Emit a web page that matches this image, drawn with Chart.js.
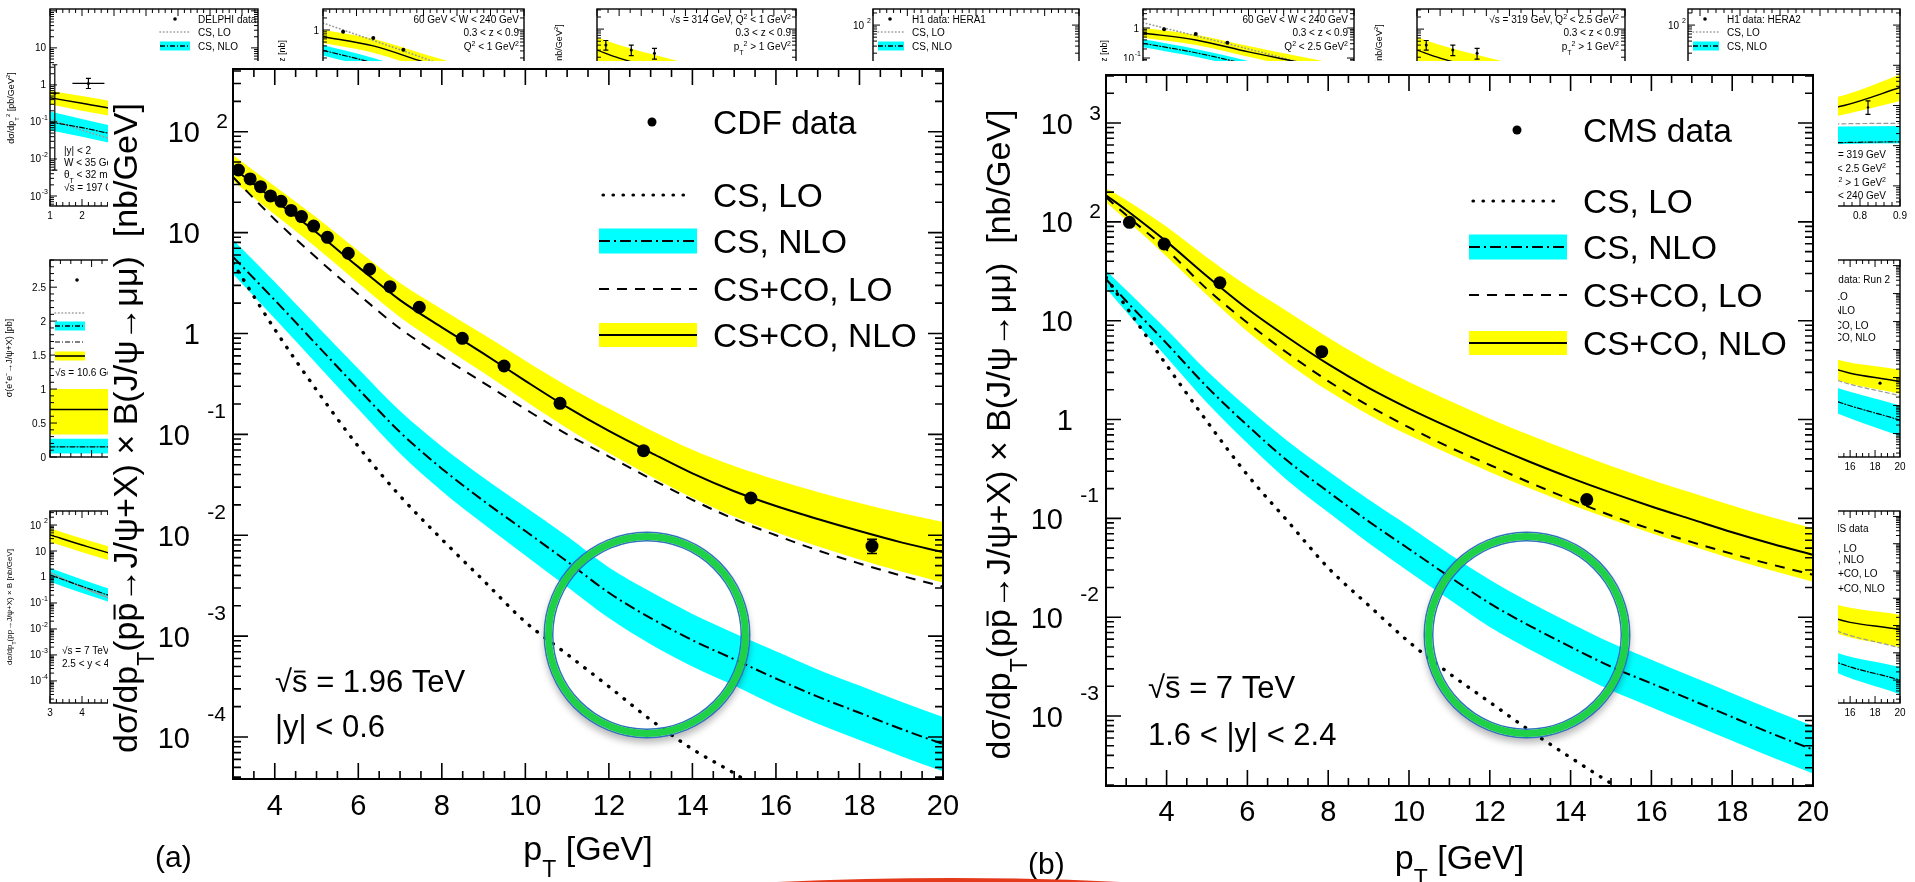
<!DOCTYPE html>
<html>
<head>
<meta charset="utf-8">
<title>Prompt J/psi production, CDF and CMS</title>
<script src="https://cdn.jsdelivr.net/npm/chart.js@4.4.1/dist/chart.umd.min.js"></script>
<style>
  html, body { margin: 0; padding: 0; background: #fff; }
  body { position: relative; width: 1915px; height: 882px; overflow: hidden; }
  canvas { position: absolute; }
  #cvA { left: 108px; top: 61px; }
  #cvB { left: 959px; top: 61px; }
  .ring {
    position: absolute; width: 204px; height: 204px; border-radius: 50%;
    box-sizing: border-box; border: 7px solid #1ed146;
    box-shadow: 0 0 0 1.5px #2f6fc0, inset 0 0 0 1.5px #2f6fc0, 0 5px 7px 1px rgba(0,0,0,0.28);
  }
  #stroke { position: absolute; left: 0; top: 0; }
</style>
</head>
<body>
<div id="bg"></div>
<canvas id="cvA" width="852" height="821"></canvas>
<canvas id="cvB" width="879" height="821"></canvas>
<div class="ring" style="left:545px; top:533px"></div>
<div class="ring" style="left:1425px; top:533px"></div>
<svg id="stroke" width="1915" height="882"><path d="M777 882 Q955 874 1120 882 Z" fill="#e5391c"/></svg>
<script>
const FONT = "'Liberation Sans', Arial, Helvetica, sans-serif";

// ---- (a) Tevatron, CDF, sqrt(s) = 1.96 TeV, |y| < 0.6  [nb/GeV]
const cdfPt    = [3.13, 3.41, 3.66, 3.90, 4.15, 4.39, 4.64, 4.93, 5.26, 5.76, 6.27, 6.76, 7.46, 8.49, 9.49, 10.83, 12.83, 15.4, 18.3];
const cdfXsec  = [41.7, 34.0, 28.5, 23.1, 20.4, 16.6, 14.4, 11.6, 8.98, 6.24, 4.33, 2.91, 1.82, 0.895, 0.476, 0.203, 0.0689, 0.0234, 0.0078];
const cdfErrDn = [0, 0, 0, 0, 0, 0, 0, 0, 0, 0, 0, 0, 0, 0, 0, 0, 0, 0, 0.0012];
const cdfErrUp = [0, 0, 0, 0, 0, 0, 0, 0, 0, 0, 0, 0, 0, 0, 0, 0, 0, 0, 0.0013];

const ptA       = [3, 4, 5, 6, 7, 8, 9, 10, 11, 12, 13, 14, 15, 16, 17, 18, 19, 20];
const aCsLo     = [5.01, 1.10, 0.275, 0.0759, 0.0245, 0.00912, 0.00355, 0.00138, 0.000661, 0.000316, 0.000148, 0.0000759, 0.0000437, 0.000024, 0.000014, 0.000008, 0.0000047, 0.0000028];
const aCsNlo    = [5.75, 2.14, 0.776, 0.282, 0.105, 0.0457, 0.0219, 0.0110, 0.0055, 0.00269, 0.00151, 0.000912, 0.000589, 0.00038, 0.000251, 0.000174, 0.00012, 0.0000851];
const aCsNloHi  = [8.51, 3.24, 1.20, 0.447, 0.170, 0.0759, 0.0372, 0.0191, 0.00977, 0.00479, 0.00275, 0.00166, 0.00107, 0.000708, 0.000468, 0.000324, 0.000224, 0.000158];
const aCsNloLo  = [3.89, 1.41, 0.501, 0.178, 0.0646, 0.0275, 0.0129, 0.00631, 0.00309, 0.00151, 0.000832, 0.000501, 0.000324, 0.000204, 0.000135, 0.0000933, 0.0000646, 0.0000457];
const aCoLo     = [35.5, 13.5, 5.62, 2.45, 1.12, 0.589, 0.324, 0.178, 0.100, 0.0603, 0.0363, 0.0224, 0.0145, 0.0100, 0.00708, 0.00525, 0.00398, 0.00309];
const aCoNlo    = [43.6, 20.9, 10.0, 4.57, 2.14, 1.15, 0.631, 0.339, 0.186, 0.108, 0.066, 0.0410, 0.0273, 0.0195, 0.0145, 0.011, 0.0085, 0.0068];
const aCoNloHi  = [58.9, 28.8, 14.1, 6.61, 3.16, 1.74, 0.977, 0.537, 0.302, 0.180, 0.110, 0.0705, 0.0485, 0.0355, 0.0269, 0.0209, 0.0166, 0.0135];
const aCoNloLo  = [32.4, 15.1, 7.08, 3.16, 1.45, 0.759, 0.407, 0.214, 0.115, 0.0653, 0.0385, 0.0235, 0.0153, 0.0107, 0.00776, 0.00575, 0.00437, 0.00339];

// ---- (b) LHC, CMS, sqrt(s) = 7 TeV, 1.6 < |y| < 2.4  [nb/GeV]
const cmsPt    = [3.08, 3.94, 5.32, 7.84, 14.4];
const cmsXsec  = [98.9, 59.7, 24.2, 4.86, 0.155];
const cmsErrDn = [0, 0, 0, 0, 0];
const cmsErrUp = [0, 0, 0, 0, 0];

const ptB       = [2.5, 3, 4, 5, 6, 7, 8, 9, 10, 11, 12, 13, 14, 15, 16, 17, 18, 19, 20];
const bCsLo     = [27.5, 13.8, 3.55, 0.955, 0.275, 0.0933, 0.0316, 0.0132, 0.00562, 0.00269, 0.00138, 0.000708, 0.00038, 0.000209, 0.00012, 0.00007, 0.000042, 0.000026, 0.000016];
const bCsNlo    = [26.3, 15.8, 5.89, 2.14, 0.871, 0.380, 0.186, 0.0933, 0.049, 0.0257, 0.0138, 0.00813, 0.00501, 0.00316, 0.00214, 0.00145, 0.000977, 0.000661, 0.000457];
const bCsNloHi  = [32.4, 20.4, 8.13, 3.09, 1.32, 0.603, 0.302, 0.155, 0.0832, 0.0437, 0.024, 0.0141, 0.00871, 0.0055, 0.00372, 0.00251, 0.0017, 0.00115, 0.000794];
const bCsNloLo  = [21.4, 12.3, 4.27, 1.48, 0.575, 0.240, 0.115, 0.0562, 0.0288, 0.0151, 0.00794, 0.00468, 0.00288, 0.00182, 0.00123, 0.000832, 0.000562, 0.00038, 0.000263];
const bCoLo     = [178, 117, 52.5, 20.9, 9.55, 4.68, 2.45, 1.38, 0.832, 0.525, 0.347, 0.229, 0.155, 0.107, 0.0776, 0.0575, 0.0437, 0.0339, 0.0269];
const bCoNlo    = [186, 132, 63.1, 28.2, 13.2, 6.76, 3.63, 2.09, 1.29, 0.832, 0.550, 0.372, 0.257, 0.182, 0.132, 0.0977, 0.0724, 0.0550, 0.0427];
const bCoNloHi  = [219, 166, 89.1, 43.7, 22.4, 12.3, 6.76, 3.89, 2.40, 1.55, 1.02, 0.692, 0.479, 0.339, 0.245, 0.182, 0.135, 0.102, 0.0794];
const bCoNloLo  = [158, 105, 44.7, 18.2, 7.76, 3.72, 1.95, 1.12, 0.692, 0.447, 0.295, 0.200, 0.138, 0.0977, 0.0708, 0.0525, 0.0389, 0.0295, 0.0229];

// ---- small companion plots around the two main panels
// DELPHI, gamma gamma -> J/psi X, dsigma/dpT^2 [pb/GeV^2]
const delphiPt2   = [1.15, 2.2];
const delphiXsec  = [0.6, 1.1];
const delphiErrDn = [0.595, 0.3];
const delphiErrUp = [2.9, 0.4];
const delphiXErr  = [0.15, 0.5];
const delphiGrid  = [1, 2, 4, 7.5];
const delphiCo    = [0.45, 0.32, 0.16, 0.065];
const delphiCoHi  = [0.7, 0.5, 0.25, 0.1];
const delphiCoLo  = [0.3, 0.2, 0.1, 0.04];
const delphiCs    = [0.1, 0.07, 0.03, 0.009];
const delphiCsHi  = [0.19, 0.12, 0.05, 0.015];
const delphiCsLo  = [0.06, 0.04, 0.017, 0.005];
const delphiCsLo0 = [0.12, 0.06, 0.02, 0.006];
// B factories, sigma(e+e- -> J/psi + X) [pb]
const eeGrid = [0, 1];
const eeCo   = [0.7, 0.7];
const eeCoHi = [1.0, 1.0];
const eeCoLo = [0.33, 0.33];
const eeCs   = [0.15, 0.15];
const eeCsHi = [0.27, 0.27];
const eeCsLo = [0.05, 0.05];
// LHCb, 7 TeV, 2.5 < y < 4 [nb/GeV]
const lhcbGrid  = [3, 4, 6, 9.5];
const lhcbCo    = [42, 17, 3.4, 0.45];
const lhcbCoHi  = [75, 30, 6, 0.8];
const lhcbCoLo  = [22, 9, 1.8, 0.25];
const lhcbCs    = [1.2, 0.44, 0.07, 0.007];
const lhcbCsHi  = [2.2, 0.8, 0.13, 0.012];
const lhcbCsLo  = [0.65, 0.24, 0.04, 0.004];
const lhcbCsLo0 = [1.5, 0.4, 0.05, 0.003];
// H1 photoproduction, W range 60-240 GeV
const h1zGrid = [0.3, 0.45, 0.6, 0.75, 0.9];
const h1Co    = [0.68, 0.40, 0.16, 0.07, 0.03];
const h1CoHi  = [1.0, 0.6, 0.25, 0.11, 0.05];
const h1CoLo  = [0.47, 0.27, 0.11, 0.045, 0.02];
const h1Cs    = [0.31, 0.15, 0.06, 0.023, 0.009];
const h1CsHi  = [0.42, 0.2, 0.08, 0.03, 0.012];
const h1CsLo  = [0.23, 0.11, 0.045, 0.017, 0.007];
const h1CsLo0 = [1.5, 0.55, 0.2, 0.07, 0.025];
const h1Z     = [0.36, 0.45, 0.54];
const h1ZXsec = [0.9, 0.63, 0.32];
// H1, pT^2 > 1 GeV^2
const h1pGrid  = [1, 2, 4, 7, 10];
const h1pCo    = [0.3, 0.19, 0.095, 0.038, 0.019];
const h1pCoHi  = [0.63, 0.4, 0.2, 0.08, 0.04];
const h1pCoLo  = [0.15, 0.09, 0.045, 0.018, 0.009];
const h1pPt2   = [1.4, 2.55, 3.6];
const h1pXsec  = [0.4, 0.3, 0.25];
const h1pErrDn = [0.1, 0.08, 0.07];
const h1pErrUp = [0.12, 0.1, 0.08];
// H1, HERA2, high-z end
const h1hiGrid  = [0.37, 0.6, 0.76, 0.9];
const h1hiCo    = [0.3, 0.52, 1.0, 2.8];
const h1hiCoHi  = [0.5, 0.9, 1.8, 5.9];
const h1hiCoLo  = [0.18, 0.3, 0.6, 1.3];
const h1hiCoLo0 = [0.25, 0.3, 0.35, 0.36];
const h1hiCs    = [0.1, 0.11, 0.12, 0.125];
const h1hiCsHi  = [0.25, 0.28, 0.3, 0.31];
const h1hiCsLo  = [0.09, 0.1, 0.11, 0.115];
const h1hiZ     = [0.82];
const h1hiXsec  = [0.9];
const h1hiErrDn = [0.3];
const h1hiErrUp = [0.4];
// CDF run 2 and CMS, high-pT end
const hpGrid    = [3, 8, 14, 20];
const cdf2Co    = [42, 1.3, 0.027, 0.007];
const cdf2CoHi  = [60, 2.2, 0.06, 0.019];
const cdf2CoLo  = [30, 0.8, 0.012, 0.0026];
const cdf2CoLo0 = [35, 0.7, 0.012, 0.0022];
const cdf2Cs    = [3.5, 0.04, 0.002, 0.0003];
const cdf2CsHi  = [6, 0.08, 0.006, 0.001];
const cdf2CsLo  = [2, 0.02, 0.0008, 0.00008];
const cdf2Pt    = [18.4];
const cdf2Xsec  = [0.0063];
const cms2Co    = [55, 1.8, 0.025, 0.007];
const cms2CoHi  = [80, 3, 0.08, 0.025];
const cms2CoLo  = [35, 1, 0.008, 0.0016];
const cms2CoLo0 = [40, 1.1, 0.01, 0.0015];
const cms2Cs    = [4.5, 0.06, 0.0007, 0.0001];
const cms2CsHi  = [8, 0.12, 0.0015, 0.0003];
const cms2CsLo  = [2.5, 0.03, 0.0003, 0.00003];

const YELLOW = '#ffff00';
const CYAN = '#00ffff';
const GREY = '#9a9a9a';
const DOTS = [0.5, 9.5];
const DASH = [10, 8];
const DASHDOT = [11, 4, 2, 4];

const xy = (xs, ys) => ys.map((v, i) => ({ x: xs[i], y: v }));

function curve(xs, ys, dash, extra) {
  return Object.assign({
    data: xy(xs, ys), borderColor: '#000', borderWidth: 2, borderDash: dash,
    pointRadius: 0, fill: false, cubicInterpolationMode: 'monotone', order: 2,
  }, extra || {});
}

function band(xs, hi, lo, color) {
  return [
    { data: xy(xs, hi), borderColor: 'rgba(0,0,0,0)', borderWidth: 0, pointRadius: 0,
      fill: '+1', backgroundColor: color, cubicInterpolationMode: 'monotone', order: 5 },
    { data: xy(xs, lo), borderColor: 'rgba(0,0,0,0)', borderWidth: 0, pointRadius: 0,
      fill: false, cubicInterpolationMode: 'monotone', order: 5 },
  ];
}

function markers(xs, ys, r) {
  return { data: xy(xs, ys), showLine: false, pointRadius: r, pointStyle: 'circle',
           pointBackgroundColor: '#000', pointBorderColor: '#000', pointBorderWidth: 0, order: 1 };
}

// text with sub/superscripts and overbars: parts = [[text, mode], ...]
function rich(ctx, parts, x, y, size, align) {
  if (typeof parts === 'string') parts = [[parts, '']];
  const small = Math.round(size * 0.68);
  const fontOf = p => `${p[1] === 'sub' || p[1] === 'sup' ? small : size}px ${FONT}`;
  const widths = parts.map(p => { ctx.font = fontOf(p); return ctx.measureText(p[0]).width; });
  const total = widths.reduce((s, w) => s + w, 0);
  let cx = align === 'center' ? x - total / 2 : align === 'right' ? x - total : x;
  ctx.textAlign = 'left';
  ctx.textBaseline = 'alphabetic';
  parts.forEach((p, i) => {
    ctx.font = fontOf(p);
    const dy = p[1] === 'sub' ? size * 0.5 : p[1] === 'sup' ? -size * 0.42 : 0;
    ctx.fillText(p[0], cx, y + dy);
    if (p[1] === 'bar') {
      ctx.lineWidth = Math.max(1, size * 0.06);
      ctx.beginPath();
      ctx.moveTo(cx + 2, y - size * 0.66);
      ctx.lineTo(cx + widths[i] - 2, y - size * 0.66);
      ctx.stroke();
    }
    cx += widths[i];
  });
  return total;
}

function hline(ctx, x0, x1, y, dash, width, cap, color) {
  ctx.save();
  ctx.strokeStyle = color || '#000';
  ctx.lineWidth = width;
  ctx.setLineDash(dash);
  ctx.lineCap = cap || 'butt';
  ctx.beginPath(); ctx.moveTo(x0, y); ctx.lineTo(x1, y); ctx.stroke();
  ctx.restore();
}

// e = [xs, ys, down, up, xHalfWidths?]
function errorBars(ctx, x, y, e, cap) {
  if (!e) return;
  const [xs, ys, dn, up, xw] = e;
  ctx.beginPath();
  xs.forEach((v, i) => {
    const px = x.getPixelForValue(v), pc = y.getPixelForValue(ys[i]);
    if (dn[i] || up[i]) {
      const p0 = y.getPixelForValue(ys[i] - dn[i]), p1 = y.getPixelForValue(ys[i] + up[i]);
      ctx.moveTo(px, p0); ctx.lineTo(px, p1);
      ctx.moveTo(px - cap, p0); ctx.lineTo(px + cap, p0);
      ctx.moveTo(px - cap, p1); ctx.lineTo(px + cap, p1);
    }
    if (xw && xw[i]) {
      const q0 = x.getPixelForValue(v - xw[i]), q1 = x.getPixelForValue(v + xw[i]);
      ctx.moveTo(q0, pc); ctx.lineTo(q1, pc);
    }
  });
  ctx.stroke();
}

function logTicks(ctx, a, y, major, minor) {
  const d0 = Math.floor(Math.log10(y.min)), d1 = Math.ceil(Math.log10(y.max));
  for (let d = d0; d <= d1; d++) {
    for (let m = 1; m <= 9; m++) {
      const v = m * Math.pow(10, d);
      if (v < y.min || v > y.max) continue;
      const py = y.getPixelForValue(v);
      const len = m === 1 ? major : minor;
      ctx.moveTo(a.left, py); ctx.lineTo(a.left + len, py);
      ctx.moveTo(a.right, py); ctx.lineTo(a.right - len, py);
    }
  }
}

function whiteBackground(chart) {
  const { ctx, width, height } = chart;
  ctx.save();
  ctx.fillStyle = '#fff';
  ctx.fillRect(0, 0, width, height);
  ctx.restore();
}

const yTitle = [['d\u03c3/dp', ''], ['T', 'sub'], ['(p', ''], ['p', 'bar'],
                ['\u2192J/\u03c8+X) \u00d7 B(J/\u03c8\u2192\u03bc\u03bc)  [nb/GeV]', '']];

const rootPanel = {
  id: 'rootPanel',
  beforeDraw: whiteBackground,
  afterDatasetsDraw(chart, args, o) {
    const { ctx, scales: { x, y } } = chart;
    ctx.save();
    ctx.strokeStyle = '#000';
    ctx.lineWidth = 1.6;
    errorBars(ctx, x, y, o.err, 5);
    ctx.restore();
  },
  afterDraw(chart, args, o) {
    const { ctx, chartArea: a, scales: { x, y } } = chart;
    ctx.save();
    ctx.strokeStyle = '#000';
    ctx.fillStyle = '#000';

    // ticks on all four sides, pointing inwards
    ctx.lineWidth = 1.6;
    ctx.beginPath();
    for (let i = Math.ceil(x.min / 0.5); i * 0.5 <= x.max + 1e-9; i++) {
      const px = x.getPixelForValue(i * 0.5);
      const len = i % 4 === 0 ? 16 : 8;
      ctx.moveTo(px, a.bottom); ctx.lineTo(px, a.bottom - len);
      ctx.moveTo(px, a.top); ctx.lineTo(px, a.top + len);
    }
    logTicks(ctx, a, y, 15, 8);
    ctx.stroke();
    ctx.lineWidth = 2;
    ctx.strokeRect(a.left, a.top, a.right - a.left, a.bottom - a.top);

    // x labels
    ctx.font = `29px ${FONT}`;
    ctx.textAlign = 'center';
    ctx.textBaseline = 'alphabetic';
    for (let v = Math.ceil(x.min / 2) * 2; v <= x.max + 1e-9; v += 2) {
      ctx.fillText(String(v), x.getPixelForValue(v), a.bottom + o.xLabelDy);
    }

    // y labels: decades
    for (let d = Math.ceil(Math.log10(y.min)); d <= Math.floor(Math.log10(y.max)); d++) {
      const py = y.getPixelForValue(Math.pow(10, d));
      ctx.textAlign = 'right';
      ctx.font = `29px ${FONT}`;
      if (d === 0 || d === 1) {
        ctx.fillText(d === 0 ? '1' : '10', a.left - 33, py + 10.5);
      } else if (d > 1) {
        ctx.fillText('10', a.left - 33, py + 10.5);
        ctx.font = `21px ${FONT}`;
        ctx.fillText(String(d), a.left - 5, py - 3.5);
      } else {
        ctx.fillText('10', a.left - 43, py + 10.5);
        ctx.font = `21px ${FONT}`;
        ctx.fillText(String(d), a.left - 7, py - 16.5);
      }
    }

    // axis titles
    const cxMid = (a.left + a.right) / 2;
    rich(ctx, [['p', ''], ['T', 'sub'], [' [GeV]', '']], cxMid, a.bottom + o.xTitleDy, 34, 'center');
    ctx.save();
    ctx.translate(a.left - 96, (a.top + a.bottom) / 2 + 4);
    ctx.rotate(-Math.PI / 2);
    rich(ctx, yTitle, 0, 0, 34, 'center');
    ctx.restore();

    // legend
    const lx0 = a.right - 344, lx1 = a.right - 246, tx = a.right - 230;
    const rows = o.legendRows.map(r => a.top + r);
    ctx.beginPath();
    ctx.arc(a.right - o.dotDx, rows[0], 4.5, 0, Math.PI * 2);
    ctx.fill();
    hline(ctx, lx0 + 4, lx1 - 4, rows[1], DOTS, 3.2, 'round');
    ctx.fillStyle = CYAN;
    ctx.fillRect(lx0, rows[2] - 12.5, lx1 - lx0, 25);
    hline(ctx, lx0, lx1, rows[2], DASHDOT, 2);
    hline(ctx, lx0, lx1, rows[3], DASH, 2);
    ctx.fillStyle = YELLOW;
    ctx.fillRect(lx0, rows[4] - 12, lx1 - lx0, 24);
    hline(ctx, lx0, lx1, rows[4], [], 2);
    ctx.fillStyle = '#000';
    ctx.font = `33.5px ${FONT}`;
    ctx.textAlign = 'left';
    ctx.textBaseline = 'alphabetic';
    [o.dataLabel, 'CS, LO', 'CS, NLO', 'CS+CO, LO', 'CS+CO, NLO'].forEach((t, i) => ctx.fillText(t, tx, rows[i] + 12));

    // kinematics
    const nx = a.left + 42;
    const w = rich(ctx, [['\u221a', ''], ['s', 'bar']], nx, a.bottom + o.noteDy[0], 31, 'left');
    rich(ctx, ' = ' + o.energy, nx + w, a.bottom + o.noteDy[0], 31, 'left');
    rich(ctx, o.rapidity, nx, a.bottom + o.noteDy[1], 31, 'left');

    // panel tag
    ctx.font = `30px ${FONT}`;
    ctx.textAlign = 'left';
    ctx.fillText(o.tag, a.left - 78, a.bottom + 88);
    ctx.restore();
  }
};

function panel(id, spec) {
  const datasets = [
    markers(spec.dataPt, spec.dataXsec, 6.5),
    curve(spec.pt, spec.coNlo, []),
    curve(spec.pt, spec.coLo, DASH),
    curve(spec.pt, spec.csNlo, DASHDOT),
    curve(spec.pt, spec.csLo, DOTS, { borderWidth: 3.4, borderCapStyle: 'round' }),
    ...band(spec.pt, spec.coNloHi, spec.coNloLo, YELLOW),
    ...band(spec.pt, spec.csNloHi, spec.csNloLo, CYAN),
  ];
  return new Chart(document.getElementById(id), {
    type: 'line',
    data: { datasets },
    options: {
      responsive: false,
      animation: false,
      devicePixelRatio: 1,
      layout: { padding: spec.padding },
      scales: {
        x: { type: 'linear', min: spec.xMin, max: 20, display: false },
        y: { type: 'logarithmic', min: spec.yMin, max: spec.yMax, display: false },
      },
      plugins: {
        legend: { display: false },
        tooltip: { enabled: false },
        filler: { drawTime: 'beforeDatasetDraw' },
        rootPanel: Object.assign({ err: spec.err }, spec.deco),
      },
    },
    plugins: [rootPanel],
  });
}

// ---------- small companion plots ----------
const miniFrame = {
  id: 'miniFrame',
  beforeDraw: whiteBackground,
  afterDatasetsDraw(chart, args, o) {
    const { ctx, scales: { x, y } } = chart;
    ctx.save();
    ctx.strokeStyle = '#000';
    ctx.lineWidth = 1.2;
    errorBars(ctx, x, y, o.err, 2.5);
    ctx.restore();
  },
  afterDraw(chart, args, o) {
    const { ctx, chartArea: a, scales: { x, y } } = chart;
    ctx.save();
    ctx.strokeStyle = '#000';
    ctx.fillStyle = '#000';
    ctx.lineWidth = 1;
    ctx.beginPath();
    for (let i = Math.ceil(x.min / o.xStep - 1e-9); i * o.xStep <= x.max + 1e-9; i++) {
      const px = x.getPixelForValue(i * o.xStep);
      const len = i % o.xMajor === 0 ? 7 : 4;
      ctx.moveTo(px, a.bottom); ctx.lineTo(px, a.bottom - len);
      ctx.moveTo(px, a.top); ctx.lineTo(px, a.top + len);
    }
    if (o.yStep) {
      for (let i = Math.ceil(y.min / o.yStep - 1e-9); i * o.yStep <= y.max + 1e-9; i++) {
        const py = y.getPixelForValue(i * o.yStep);
        const len = i % o.yMajor === 0 ? 7 : 4;
        ctx.moveTo(a.left, py); ctx.lineTo(a.left + len, py);
        ctx.moveTo(a.right, py); ctx.lineTo(a.right - len, py);
      }
    } else {
      logTicks(ctx, a, y, 7, 4);
    }
    ctx.stroke();
    ctx.lineWidth = 1.4;
    ctx.strokeRect(a.left, a.top, a.right - a.left, a.bottom - a.top);

    ctx.font = `10px ${FONT}`;
    ctx.textAlign = 'center';
    ctx.textBaseline = 'alphabetic';
    (o.xLabels || []).forEach(v => ctx.fillText(String(v), x.getPixelForValue(v), a.bottom + 13));
    (o.yLabels || []).forEach(([t, e, v]) => {
      const py = y.getPixelForValue(v);
      ctx.textAlign = 'right';
      ctx.font = `10px ${FONT}`;
      ctx.fillText(t, a.left - (e ? 9 : 4), py + 3.5);
      if (e) { ctx.font = `7px ${FONT}`; ctx.fillText(e, a.left - 2, py - 2); }
    });

    // text and legend symbols are given in page coordinates
    ctx.translate(-o.ox, -o.oy);
    (o.syms || []).forEach(([kind, x0, x1, py]) => {
      if (kind === 'dot') { ctx.beginPath(); ctx.arc(x0, py, 1.8, 0, Math.PI * 2); ctx.fill(); }
      if (kind === 'dots') hline(ctx, x0, x1, py, [0.5, 3], 1.6, 'round', GREY);
      if (kind === 'dash') hline(ctx, x0, x1, py, [4, 3], 1.2, 'butt', GREY);
      if (kind === 'dashdot') hline(ctx, x0, x1, py, [5, 2, 1, 2], 1.2);
      if (kind === 'cyan' || kind === 'yellow') {
        ctx.fillStyle = kind === 'cyan' ? CYAN : YELLOW;
        ctx.fillRect(x0, py - 4.5, x1 - x0, 9);
        ctx.fillStyle = '#000';
        hline(ctx, x0, x1, py, kind === 'cyan' ? [5, 2, 1, 2] : [], 1.6);
      }
    });
    (o.texts || []).forEach(([t, px, py, size, align, rot]) => {
      ctx.save();
      ctx.translate(px, py);
      if (rot) ctx.rotate(rot * Math.PI / 180);
      rich(ctx, t, 0, 0, size, align);
      ctx.restore();
    });
    ctx.restore();
  }
};

function thin(xs, ys, color, dash, w) {
  return curve(xs, ys, dash, { borderColor: color, borderWidth: w || 1.3, borderCapStyle: 'round' });
}

function miniSets(grid, coHi, coLo, co, csHi, csLo, cs, extra) {
  let sets = [];
  if (co) sets.push(thin(grid, co, '#000', [], 1.4));
  if (cs) sets.push(thin(grid, cs, '#000', [5, 2, 1, 2], 1.2));
  if (coHi) sets = sets.concat(band(grid, coHi, coLo, YELLOW));
  if (csHi) sets = sets.concat(band(grid, csHi, csLo, CYAN));
  return sets.concat(extra || []);
}

function mini(spec) {
  const f = spec.frame;
  const m = { l: 46, t: Math.min(f[1], 12), r: 12, b: 26 };
  const cv = document.createElement('canvas');
  const left = f[0] - m.l, top = f[1] - m.t;
  cv.width = f[2] - f[0] + m.l + m.r;
  cv.height = f[3] - f[1] + m.t + m.b;
  cv.style.left = left + 'px';
  cv.style.top = top + 'px';
  document.getElementById('bg').appendChild(cv);
  return new Chart(cv, {
    type: 'line',
    data: { datasets: spec.sets },
    options: {
      responsive: false, animation: false, devicePixelRatio: 1,
      layout: { padding: { left: m.l, top: m.t, right: m.r, bottom: m.b } },
      scales: {
        x: { type: 'linear', min: spec.xr[0], max: spec.xr[1], display: false },
        y: { type: spec.yStep ? 'linear' : 'logarithmic', min: spec.yr[0], max: spec.yr[1], display: false },
      },
      plugins: {
        legend: { display: false }, tooltip: { enabled: false },
        filler: { drawTime: 'beforeDatasetDraw' },
        miniFrame: Object.assign({ ox: left, oy: top, yStep: spec.yStep, yMajor: spec.yMajor,
                                   xStep: spec.xStep, xMajor: spec.xMajor }, spec.deco),
      },
    },
    plugins: [miniFrame],
  });
}

const p10 = e => Math.pow(10, e);
const logLabels = (d0, d1) => {
  const out = [];
  for (let d = d0; d <= d1; d++) {
    if (d === 0) out.push(['1', '', 1]);
    else if (d === 1) out.push(['10', '', 10]);
    else out.push(['10', String(d), p10(d)]);
  }
  return out;
};
const pt2 = [['p', ''], ['T', 'sub'], ['2', 'sup'], [' > 1 GeV', ''], ['2', 'sup']];
const q2 = v => [['Q', ''], ['2', 'sup'], [' < ' + v + ' GeV', ''], ['2', 'sup']];
const h1Legend = (x0, label) => ({
  syms: [['dot', x0 + 12, 0, 19], ['dots', x0, x0 + 26, 32], ['cyan', x0, x0 + 26, 46]],
  texts: [[label, x0 + 34, 23, 10, 'left'], ['CS, LO', x0 + 34, 36, 10, 'left'], ['CS, NLO', x0 + 34, 50, 10, 'left']],
});
const sideLegend = (x0, rows, label) => ({
  texts: [label, 'CS, LO', 'CS, NLO', 'CS+CO, LO', 'CS+CO, NLO'].map((t, i) => [t, x0, rows[i], 10, 'left']),
});

[
  { // DELPHI
    frame: [50, 9, 258, 206], xr: [1, 7.5], yr: [p10(-3.27), p10(2.05)], xStep: 0.2, xMajor: 5,
    sets: miniSets(delphiGrid, delphiCoHi, delphiCoLo, delphiCo, delphiCsHi, delphiCsLo, delphiCs,
                   [thin(delphiGrid, delphiCsLo0, GREY, [0.5, 3], 1.6), markers(delphiPt2, delphiXsec, 1.5)]),
    deco: {
      err: [delphiPt2, delphiXsec, delphiErrDn, delphiErrUp, delphiXErr],
      xLabels: [1, 2, 3, 4, 5, 6, 7], yLabels: logLabels(-3, 1),
      syms: [['dot', 175, 0, 19], ['dots', 160, 190, 32], ['cyan', 160, 190, 46]],
      texts: [['DELPHI data', 198, 23, 10, 'left'], ['CS, LO', 198, 36, 10, 'left'], ['CS, NLO', 198, 50, 10, 'left'],
              ['|y| < 2', 64, 154, 10, 'left'], ['W < 35 GeV', 64, 166, 10, 'left'],
              [[['\u03b8', ''], ['T', 'sub'], [' < 32 mrad', '']], 64, 178, 10, 'left'], ['\u221as = 197 GeV', 64, 191, 10, 'left'],
              [[['d\u03c3/dp', ''], ['T', 'sub'], ['2', 'sup'], [' [pb/GeV', ''], ['2', 'sup'], [']', '']], 14, 108, 9, 'center', -90]],
    },
  },
  { // B factories
    frame: [50, 260, 258, 457], xr: [0, 1], yr: [0, 2.9], yStep: 0.1, yMajor: 5, xStep: 0.05, xMajor: 4,
    sets: miniSets(eeGrid, eeCoHi, eeCoLo, eeCo, eeCsHi, eeCsLo, eeCs),
    deco: {
      yLabels: [['0', '', 0], ['0.5', '', 0.5], ['1', '', 1], ['1.5', '', 1.5], ['2', '', 2], ['2.5', '', 2.5]],
      syms: [['dot', 77, 0, 280], ['dots', 55, 85, 313], ['cyan', 55, 85, 326], ['dashdot', 55, 85, 342], ['yellow', 55, 85, 356]],
      texts: [['\u221as = 10.6 GeV', 55, 376, 10, 'left'],
              ['\u03c3(e\u207ae\u207b\u2192J/\u03c8+X) [pb]', 12, 358, 9, 'center', -90]],
    },
  },
  { // LHCb
    frame: [50, 511, 258, 703], xr: [3, 9.5], yr: [p10(-4.85), p10(2.54)], xStep: 0.2, xMajor: 5,
    sets: miniSets(lhcbGrid, lhcbCoHi, lhcbCoLo, lhcbCo, lhcbCsHi, lhcbCsLo, lhcbCs,
                   [thin(lhcbGrid, lhcbCsLo0, GREY, [], 1.2)]),
    deco: {
      xLabels: [3, 4, 5, 6, 7, 8, 9], yLabels: logLabels(-4, 2),
      texts: [['\u221as = 7 TeV', 62, 654, 10, 'left'], ['2.5 < y < 4', 62, 667, 10, 'left'],
              [[['d\u03c3/dp', ''], ['T', 'sub'], ['(pp\u2192J/\u03c8+X) \u00d7 B [nb/GeV]', '']], 12, 607, 8, 'center', -90]],
    },
  },
  { // H1, HERA1, W range
    frame: [323, 9, 524, 206], xr: [0.3, 0.9], yr: [p10(-4.4), p10(0.525)], xStep: 0.02, xMajor: 5,
    sets: miniSets(h1zGrid, h1CoHi, h1CoLo, h1Co, h1CsHi, h1CsLo, h1Cs,
                   [thin(h1zGrid, h1CsLo0, GREY, [0.5, 3], 1.6), markers(h1Z, h1ZXsec, 2)]),
    deco: {
      yLabels: [['1', '', 1], ['10', '-1', 0.1]],
      texts: [['60 GeV < W < 240 GeV', 519, 23, 10, 'right'], ['0.3 < z < 0.9', 519, 36, 10, 'right'],
              [q2('1'), 519, 50, 10, 'right'], ['d\u03c3/dz [nb]', 285, 60, 9, 'center', -90]],
    },
  },
  { // H1, HERA1, pT2
    frame: [597, 9, 796, 206], xr: [1, 10], yr: [p10(-4.4), p10(0.5)], xStep: 0.5, xMajor: 2,
    sets: miniSets(h1pGrid, h1pCoHi, h1pCoLo, h1pCo, null, null, null, [markers(h1pPt2, h1pXsec, 1.5)]),
    deco: {
      err: [h1pPt2, h1pXsec, h1pErrDn, h1pErrUp],
      texts: [[[['\u221as = 314 GeV, Q', ''], ['2', 'sup'], [' < 1 GeV', ''], ['2', 'sup']], 791, 23, 10, 'right'],
              ['0.3 < z < 0.9', 791, 36, 10, 'right'], [pt2, 791, 50, 10, 'right'],
              [[['d\u03c3/dp', ''], ['T', 'sub'], ['2', 'sup'], [' [nb/GeV', ''], ['2', 'sup'], [']', '']], 562, 60, 9, 'center', -90]],
    },
  },
  { // H1, HERA1, legend corner
    frame: [873, 9, 1079, 206], xr: [0.3, 0.9], yr: [p10(-2.5), p10(2.4)], xStep: 0.02, xMajor: 5,
    sets: [],
    deco: Object.assign({ yLabels: [['10', '2', 100]] }, h1Legend(878, 'H1 data: HERA1')),
  },
  { // H1, HERA2, W range
    frame: [1143, 9, 1354, 206], xr: [0.3, 0.9], yr: [p10(-5.93), p10(0.633)], xStep: 0.02, xMajor: 5,
    sets: miniSets(h1zGrid, h1CoHi, h1CoLo, h1Co, h1CsHi, h1CsLo, h1Cs,
                   [thin(h1zGrid, h1CsLo0, GREY, [0.5, 3], 1.6), markers(h1Z, h1ZXsec, 2)]),
    deco: {
      yLabels: [['1', '', 1], ['10', '-1', 0.1]],
      texts: [['60 GeV < W < 240 GeV', 1348, 23, 10, 'right'], ['0.3 < z < 0.9', 1348, 36, 10, 'right'],
              [q2('2.5'), 1348, 50, 10, 'right'], ['d\u03c3/dz [nb]', 1107, 60, 9, 'center', -90]],
    },
  },
  { // H1, HERA2, pT2
    frame: [1417, 9, 1625, 206], xr: [1, 10], yr: [p10(-4.4), p10(0.5)], xStep: 0.5, xMajor: 2,
    sets: miniSets(h1pGrid, h1pCoHi, h1pCoLo, h1pCo, null, null, null, [markers(h1pPt2, h1pXsec, 1.5)]),
    deco: {
      err: [h1pPt2, h1pXsec, h1pErrDn, h1pErrUp],
      texts: [[[['\u221as = 319 GeV, Q', ''], ['2', 'sup'], [' < 2.5 GeV', ''], ['2', 'sup']], 1619, 23, 10, 'right'],
              ['0.3 < z < 0.9', 1619, 36, 10, 'right'], [pt2, 1619, 50, 10, 'right'],
              [[['d\u03c3/dp', ''], ['T', 'sub'], ['2', 'sup'], [' [nb/GeV', ''], ['2', 'sup'], [']', '']], 1382, 60, 9, 'center', -90]],
    },
  },
  { // H1, HERA2, z distribution
    frame: [1688, 9, 1900, 206], xr: [0.37, 0.9], yr: [p10(-2.5), p10(2.4)], xStep: 0.02, xMajor: 5,
    sets: miniSets(h1hiGrid, h1hiCoHi, h1hiCoLo, h1hiCo, h1hiCsHi, h1hiCsLo, h1hiCs,
                   [thin(h1hiGrid, h1hiCoLo0, GREY, [4, 3], 1.2), markers(h1hiZ, h1hiXsec, 1.2)]),
    deco: (() => {
      const lg = h1Legend(1693, 'H1 data: HERA2');
      return {
        err: [h1hiZ, h1hiXsec, h1hiErrDn, h1hiErrUp],
        xLabels: [0.4, 0.5, 0.6, 0.7, 0.8, 0.9], yLabels: [['10', '2', 100]], syms: lg.syms,
        texts: lg.texts.concat([
          ['\u221as = 319 GeV', 1886, 158, 10, 'right'], [q2('2.5'), 1886, 172, 10, 'right'],
          [pt2, 1886, 186, 10, 'right'], ['60 GeV < W < 240 GeV', 1886, 199, 10, 'right']]),
      };
    })(),
  },
  { // CDF run 2, high pT
    frame: [1688, 260, 1900, 457], xr: [3, 20], yr: [p10(-4.84), p10(2.2)], xStep: 0.5, xMajor: 4,
    sets: miniSets(hpGrid, cdf2CoHi, cdf2CoLo, cdf2Co, cdf2CsHi, cdf2CsLo, cdf2Cs,
                   [thin(hpGrid, cdf2CoLo0, GREY, [4, 3], 1.2), markers(cdf2Pt, cdf2Xsec, 1.6)]),
    deco: Object.assign({ xLabels: [4, 6, 8, 10, 12, 14, 16, 18, 20] },
                        sideLegend(1815, [283, 300, 314, 329, 341], 'CDF data: Run 2')),
  },
  { // CMS, high pT
    frame: [1688, 511, 1900, 703], xr: [3, 20], yr: [p10(-4.84), p10(2.2)], xStep: 0.5, xMajor: 4,
    sets: miniSets(hpGrid, cms2CoHi, cms2CoLo, cms2Co, cms2CsHi, cms2CsLo, cms2Cs,
                   [thin(hpGrid, cms2CoLo0, GREY, [4, 3], 1.2)]),
    deco: Object.assign({ xLabels: [4, 6, 8, 10, 12, 14, 16, 18, 20] },
                        sideLegend(1824, [532, 552, 563, 577, 592], 'CMS data')),
  },
].forEach(mini);

// ---------- main panels ----------
panel('cvA', {
  pt: ptA, csLo: aCsLo, csNlo: aCsNlo, csNloHi: aCsNloHi, csNloLo: aCsNloLo,
  coLo: aCoLo, coNlo: aCoNlo, coNloHi: aCoNloHi, coNloLo: aCoNloLo,
  dataPt: cdfPt, dataXsec: cdfXsec, err: [cdfPt, cdfXsec, cdfErrDn, cdfErrUp],
  xMin: 3, yMin: 3.835e-5, yMax: 418.3,
  padding: { left: 125, top: 8, right: 17, bottom: 103 },
  deco: { legendRows: [53, 126, 172, 220, 266], dotDx: 291, dataLabel: 'CDF data',
          energy: '1.96 TeV', rapidity: '|y| < 0.6', noteDy: [-87, -42], tag: '(a)',
          xLabelDy: 36, xTitleDy: 81 },
});

panel('cvB', {
  pt: ptB, csLo: bCsLo, csNlo: bCsNlo, csNloHi: bCsNloHi, csNloLo: bCsNloLo,
  coLo: bCoLo, coNlo: bCoNlo, coNloHi: bCoNloHi, coNloLo: bCoNloLo,
  dataPt: cmsPt, dataXsec: cmsXsec, err: [cmsPt, cmsXsec, cmsErrDn, cmsErrUp],
  xMin: 2.5, yMin: 1.96e-4, yMax: 3060,
  padding: { left: 147, top: 14, right: 25, bottom: 96 },
  deco: { legendRows: [55, 126, 172, 220, 268], dotDx: 296, dataLabel: 'CMS data',
          energy: '7 TeV', rapidity: '1.6 < |y| < 2.4', noteDy: [-88, -41], tag: '(b)',
          xLabelDy: 35, xTitleDy: 83 },
});
</script>
</body>
</html>
